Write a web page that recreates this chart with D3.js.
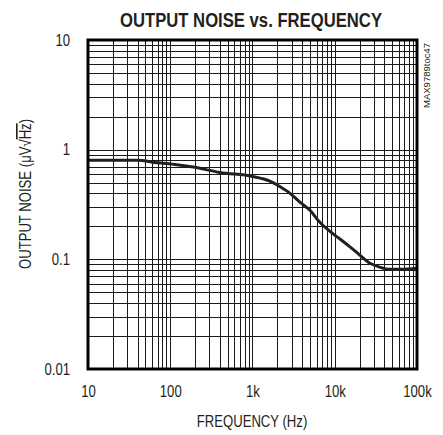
<!DOCTYPE html>
<html><head><meta charset="utf-8">
<script src="https://cdn.jsdelivr.net/npm/d3@7"></script>
<style>
body{margin:0;background:#fff;}
text{font-family:"Liberation Sans",Arial,sans-serif;fill:#231f20;}
</style></head>
<body><svg id="c" width="443" height="435"></svg>
<script>
const title = "OUTPUT NOISE vs. FREQUENCY";
const xLabel = "FREQUENCY (Hz)";
const yLabelMain = "OUTPUT NOISE (μV";
const yLabelRoot = "√";
const yLabelHz = "Hz";
const sideNote = "MAX9789toc47";
const xTicks = [10, 100, 1000, 10000, 100000];
const xTickLabels = ["10", "100", "1k", "10k", "100k"];
const yTicks = [0.01, 0.1, 1, 10];
const yTickLabels = ["0.01", "0.1", "1", "10"];
const freq  = [10, 20, 39, 70, 120, 200, 400, 1000, 1600, 2160, 2860, 3800, 5000, 6500, 8750, 12000, 15300, 20000, 26900, 35000, 46800, 65000, 100000];
const noise = [0.80, 0.80, 0.80, 0.76, 0.73, 0.69, 0.62, 0.57, 0.52, 0.46, 0.40, 0.33, 0.28, 0.22, 0.18, 0.15, 0.13, 0.11, 0.092, 0.085, 0.081, 0.081, 0.083];

const svg = d3.select("#c");
const L = 88, R = 417, T = 40, B = 369;
const x = d3.scaleLog().domain([10, 100000]).range([L, R]);
const y = d3.scaleLog().domain([0.01, 10]).range([B, T]);

function narrow(sel, f) {
  sel.each(function () {
    const w = this.getComputedTextLength();
    d3.select(this).attr("textLength", w * f).attr("lengthAdjust", "spacingAndGlyphs");
  });
}

// grid
const xs = [], ys = [];
for (let d = 10; d < 100000; d *= 10) for (let k = 2; k <= 9; k++) xs.push(d * k);
xTicks.slice(1, -1).forEach(v => xs.push(v));
for (let d = 0.01; d < 9; d *= 10) for (let k = 2; k <= 9; k++) ys.push(d * k);
yTicks.slice(1, -1).forEach(v => ys.push(v));
const g = svg.append("g").attr("stroke", "#1a1a1a").attr("stroke-width", 1);
g.selectAll("line.v").data(xs).join("line").attr("class", "v")
  .attr("x1", d => Math.round(x(d)) + 0.5).attr("x2", d => Math.round(x(d)) + 0.5).attr("y1", T).attr("y2", B);
g.selectAll("line.h").data(ys).join("line").attr("class", "h")
  .attr("y1", d => Math.round(y(d)) + 0.5).attr("y2", d => Math.round(y(d)) + 0.5).attr("x1", L).attr("x2", R);

// curve
const pts = freq.map((f, i) => [f, noise[i]]);
svg.append("path").datum(pts)
  .attr("fill", "none").attr("stroke", "#231f20").attr("stroke-width", 3)
  .attr("d", d3.line().x(d => x(d[0])).y(d => y(d[1])).curve(d3.curveMonotoneX));

// border
svg.append("rect").attr("x", L).attr("y", T).attr("width", R - L).attr("height", B - T)
  .attr("fill", "none").attr("stroke", "#000").attr("stroke-width", 3);

// axes
const xa = d3.axisBottom(x).tickValues(xTicks).tickFormat((d, i) => xTickLabels[i]).tickSize(0).tickPadding(17);
const gx = svg.append("g").attr("transform", `translate(0,${B})`).call(xa);
gx.select(".domain").remove();
gx.selectAll("text").attr("font-size", 16).attr("fill", "#231f20").style("font-family", "'Liberation Sans', Arial, sans-serif");
narrow(gx.selectAll("text"), 0.82);
const ya = d3.axisLeft(y).tickValues(yTicks).tickFormat((d, i) => yTickLabels[i]).tickSize(0).tickPadding(18);
const gy = svg.append("g").attr("transform", `translate(${L},0)`).call(ya);
gy.select(".domain").remove();
gy.selectAll("text").attr("font-size", 16).attr("fill", "#231f20").style("font-family", "'Liberation Sans', Arial, sans-serif");
narrow(gy.selectAll("text"), 0.82);

// title
svg.append("text").attr("x", 251).attr("y", 27).attr("text-anchor", "middle")
  .attr("font-size", 20).attr("font-weight", 900).attr("fill", "#000")
  .attr("textLength", 262).attr("lengthAdjust", "spacingAndGlyphs").text(title);

// x label
const xl = svg.append("text").attr("x", 252).attr("y", 427).attr("text-anchor", "middle")
  .attr("font-size", 16).text(xLabel);
narrow(xl, 0.82);

// y label
const yl = svg.append("text").attr("transform", "translate(31,194) rotate(-90)")
  .attr("text-anchor", "middle").attr("font-size", 16);
yl.append("tspan").text(yLabelMain);
yl.append("tspan").text(yLabelRoot);
yl.append("tspan").style("text-decoration", "overline").text(yLabelHz);
yl.append("tspan").text(")");
narrow(yl, 0.82);

// side note
svg.append("text").attr("transform", "translate(430,108) rotate(-90)")
  .attr("font-size", 9).attr("textLength", 65).attr("lengthAdjust", "spacingAndGlyphs").text(sideNote);
</script></body></html>
